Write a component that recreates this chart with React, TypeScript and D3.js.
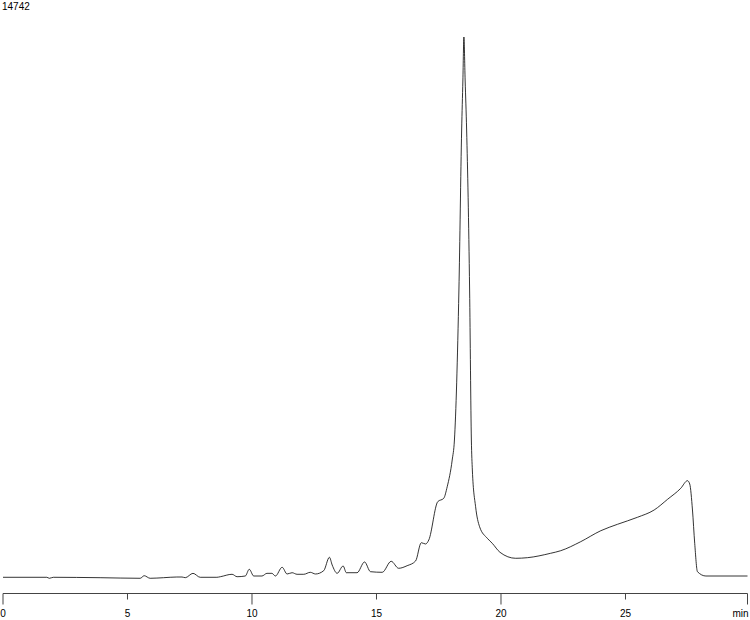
import React from 'react';
import * as d3 from 'd3';

// retention time (min) and detector signal
const times = [
  0, 1.76, 1.86, 2.02, 3.9, 5.51, 5.67, 5.91, 6.45, 6.98, 7.19, 7.32, 7.63, 7.92, 8.59, 8.73,
  9.2, 9.4, 9.73, 9.89, 10.07, 10.4, 10.6, 10.8, 10.94, 11.21, 11.41, 11.61, 11.81, 12.08, 12.34,
  12.55, 12.88, 13.11, 13.22, 13.42, 13.66, 13.79, 14.22, 14.52, 14.76, 15.23, 15.59, 15.89, 16.23,
  16.57, 16.8, 16.97, 17.1, 17.46, 17.7, 17.84, 18.04, 18.13, 18.31, 18.42, 18.47, 18.51, 18.56,
  18.62, 18.74, 18.81, 18.85, 18.98, 19.14, 19.45, 19.65, 19.96, 20.59, 21.06, 21.99, 22.4, 23.2,
  24.01, 24.68, 25.48, 26.15, 26.69, 27.22, 27.49, 27.58, 27.69, 27.78, 27.89, 28.23, 29.9,
];
const signal = [
  -8, -8, -35, -8, -19, -35, 35, -35, -19, 0, 0, -19, 100, -8, -8, 8,
  74, 8, 27, 210, 27, 27, 100, 100, 27, 265, 82, 117, 74, 74, 128,
  82, 172, 538, 328, 101, 300, 117, 117, 410, 145, 128, 429, 238, 308,
  437, 936, 901, 1010, 2056, 2148, 2465, 3194, 3740, 7835, 12203, 13568, 14742, 13568,
  12203, 7835, 3740, 2921, 1919, 1373, 1057, 920, 674, 511, 527, 647, 718, 964,
  1264, 1439, 1630, 1829, 2121, 2422, 2629, 2539, 1829, 920, 145, 27, 27,
];

const majorTicks = [0, 10, 20];
const minorTicks = [5, 15, 25];
const maxLabel = '14742';
const unitLabel = 'min';

const W = 750;
const H = 620;

export default function App() {
  const x = d3.scaleLinear().domain([0, 29.9]).range([3, 747.5]);
  const y = d3.scaleLinear().domain([0, 14742]).range([577, 37]);
  const axisY = 593.5;

  const pts = times.map((t, i) => [t, signal[i]] as [number, number]);
  const path = d3
    .line<[number, number]>()
    .x((d) => x(d[0]))
    .y((d) => y(d[1]))
    .curve(d3.curveMonotoneX)(pts);

  const font = "'Liberation Sans', Arial, Helvetica, sans-serif";

  return (
    <div style={{ position: 'fixed', left: 0, top: 0 }}>
      <svg width={W} height={H} style={{ display: 'block', background: '#fff' }}>
        <text x={2} y={10} fontSize={10} fontFamily={font} fill="#000">
          {maxLabel}
        </text>
        <path d={path ?? ''} fill="none" stroke="#000" strokeWidth={0.8} />
        <line x1={x(0)} x2={x(29.9)} y1={axisY} y2={axisY} stroke="#444" strokeWidth={1} />
        {majorTicks.map((t) => (
          <g key={`M${t}`}>
            <line x1={x(t)} x2={x(t)} y1={axisY} y2={axisY + 11} stroke="#444" strokeWidth={1} />
            <text x={x(t)} y={617} fontSize={10} fontFamily={font} textAnchor="middle" fill="#000">
              {t}
            </text>
          </g>
        ))}
        {minorTicks.map((t) => (
          <g key={`m${t}`}>
            <line x1={x(t)} x2={x(t)} y1={axisY} y2={axisY + 6} stroke="#444" strokeWidth={1} />
            <text x={x(t)} y={617} fontSize={10} fontFamily={font} textAnchor="middle" fill="#000">
              {t}
            </text>
          </g>
        ))}
        <line x1={x(29.9)} x2={x(29.9)} y1={axisY} y2={axisY + 11} stroke="#444" strokeWidth={1} />
        <text x={x(29.9) + 1} y={617} fontSize={10} fontFamily={font} textAnchor="end" fill="#000">
          {unitLabel}
        </text>
      </svg>
    </div>
  );
}
